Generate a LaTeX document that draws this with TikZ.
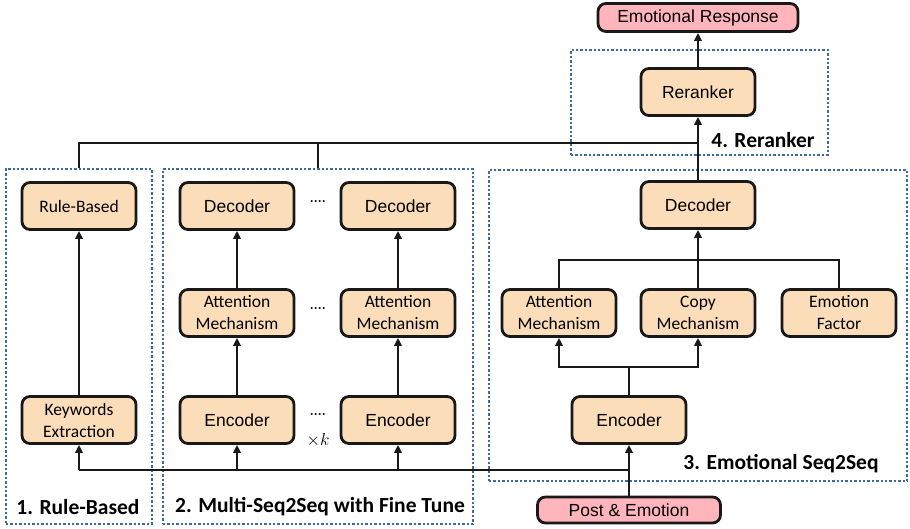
\documentclass[tikz,border=0pt]{standalone}
\usepackage{fontspec}
\setmainfont{Liberation Sans}
\newfontfamily\calfont{Carlito}
\usetikzlibrary{arrows.meta}

\definecolor{peach}{RGB}{252,221,185}
\definecolor{rose}{RGB}{255,181,187}
\definecolor{grpblue}{RGB}{62,106,158}

\tikzset{
  x=1pt, y=-1pt,
  block/.style={draw=black!90, line width=2.8pt, rounded corners=8pt, fill=peach,
    minimum width=114pt, minimum height=47pt, inner sep=0pt, align=center,
    font=\fontsize{17.5}{22}\selectfont},
  cblock/.style={block, font=\calfont\fontsize{17.5}{22}\selectfont},
  io/.style={block, fill=rose, minimum height=28pt},
  group/.style={draw=grpblue, line width=2.6pt, dash pattern=on 2.4pt off 2pt,
    inner sep=0pt},
  grouplabel/.style={font=\calfont\bfseries\fontsize{21.5}{24}\selectfont, inner sep=0pt},
  wire/.style={line width=2.8pt, draw=black!90},
  arr/.style={wire, -{Triangle[length=8pt,width=7.5pt]}},
  ellip/.style={font=\bfseries\fontsize{12}{12}\selectfont, inner sep=0pt},
}

\begin{document}
\begin{tikzpicture}
\useasboundingbox (0,0) rectangle (910,529);

% dotted group frames
\node[group, minimum width=146pt, minimum height=355pt] (g1) at (79,346.5) {};
\node[group, minimum width=310pt, minimum height=355pt] (g2) at (318,346.5) {};
\node[group, minimum width=418pt, minimum height=311pt] (g3) at (698,325.5) {};
\node[group, minimum width=257pt, minimum height=105pt] (g4) at (699.5,102.5) {};

% input and output
\node[io, minimum width=200pt, minimum height=28pt] (resp) at (698,17.5) {Emotional Response};
\node[io, minimum width=183pt, minimum height=26pt] (post) at (629,510) {Post \& Emotion};

% 4. reranker
\node[block] (rer) at (698,92) {Reranker};

% 1. rule-based
\node[cblock] (rule) at (79,206) {Rule-Based};
\node[cblock] (kw) at (79,420) {Keywords\\Extraction};

% 2. multi-seq2seq
\node[block] (dec1) at (237,206) {Decoder};
\node[cblock] (att1) at (237,313) {Attention\\Mechanism};
\node[block] (enc1) at (237,420) {Encoder};
\node[block] (dec2) at (398,206) {Decoder};
\node[cblock] (att2) at (398,313) {Attention\\Mechanism};
\node[block] (enc2) at (398,420) {Encoder};
\node[ellip] (dd1) at (318,203) {····};
\node[ellip] (dd2) at (318,310) {····};
\node[ellip] (dd3) at (318,416) {····};
\node[inner sep=0pt, font=\fontsize{17}{17}\selectfont] (times) at (318,440) {$\times k$};

% 3. emotional seq2seq
\node[block] (decR) at (698,205) {Decoder};
\node[cblock] (attR) at (559,313) {Attention\\Mechanism};
\node[cblock] (copy) at (698,313) {Copy\\Mechanism};
\node[cblock] (emo) at (839,313) {Emotion\\Factor};
\node[block] (encR) at (629,420) {Encoder};

% group labels
\node[grouplabel] (lab1) at (78,507) {1. Rule-Based};
\node[grouplabel] (lab2) at (320,507) {2. Multi-Seq2Seq with Fine Tune};
\node[grouplabel] (lab3) at (781,464) {3. Emotional Seq2Seq};
\node[grouplabel] (lab4) at (763,140) {4. Reranker};

% bus coordinates
\coordinate (busT) at (698,143);
\coordinate (busB) at (629,470);
\coordinate (splitE) at (629,367);
\coordinate (joinD) at (698,260);

% input distribution
\draw[arr] (post.north) -- (encR.south);
\draw[wire] (busB) -- (busB -| kw.south);
\draw[arr] (busB -| kw.south) -- (kw.south);
\draw[arr] (busB -| enc1.south) -- (enc1.south);
\draw[arr] (busB -| enc2.south) -- (enc2.south);

% rule-based path
\draw[arr] (kw.north) -- (rule.south);

% multi-seq2seq paths
\draw[arr] (enc1.north) -- (att1.south);
\draw[arr] (att1.north) -- (dec1.south);
\draw[arr] (enc2.north) -- (att2.south);
\draw[arr] (att2.north) -- (dec2.south);

% emotional seq2seq paths
\draw[wire] (encR.north) -- (splitE);
\draw[arr] (splitE) -| (attR.south);
\draw[arr] (splitE) -| (copy.south);
\draw[wire] (attR.north) |- (joinD);
\draw[wire] (emo.north) |- (joinD);
\draw[wire] (copy.north) -- (joinD);
\draw[arr] (joinD) -- (decR.south);

% candidates into the reranker
\draw[wire] (g1.north) |- (busT);
\draw[wire] (g2.north) -- (g2.north |- busT);
\draw[arr] (decR.north) -- (rer.south);
\draw[arr] (rer.north) -- (resp.south);
\end{tikzpicture}
\end{document}
